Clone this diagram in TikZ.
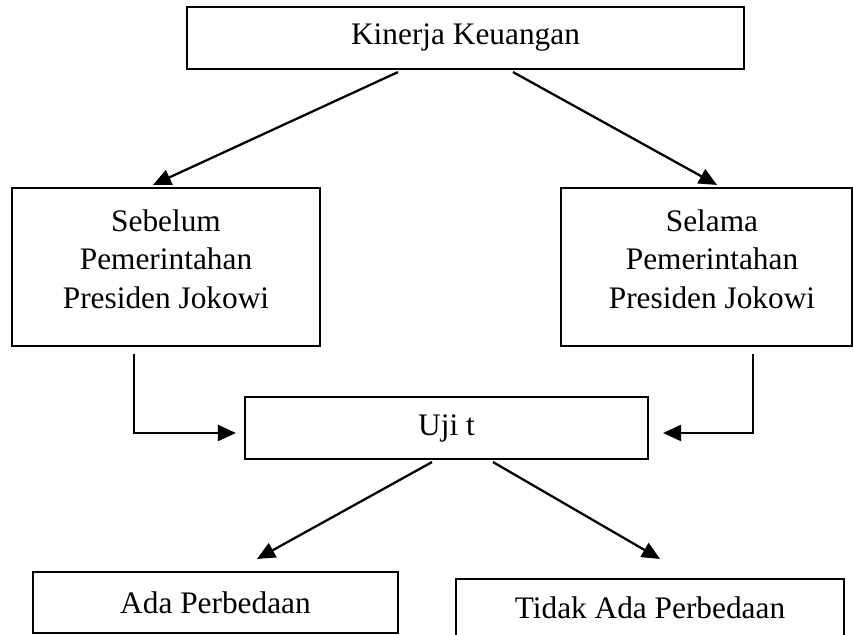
\documentclass[tikz,border=0pt]{standalone}
\usepackage{fontspec}
\setmainfont{Liberation Serif}
\usetikzlibrary{arrows.meta,calc}
\begin{document}
\begin{tikzpicture}[x=0.75pt,y=-0.75pt,
  box/.style={draw, line width=1.6pt, inner sep=0pt, font=\fontsize{23.5}{29}\selectfont},
  lbl/.style={inner sep=0pt, align=center, font=\fontsize{23.5}{29}\selectfont},
  arr/.style={line width=1.7pt, -{Triangle[length=13.5pt,width=12pt]}}]
\clip (0,0) rectangle (853,635);
\node[box, minimum width=417.75pt, minimum height=46.5pt] (kk) at (465.5,38) {Kinerja Keuangan};
\node[box, minimum width=231pt, minimum height=118.5pt] (sb) at (166,267) {};
\node[lbl] (sbt) at (166,259) {Sebelum\\Pemerintahan\\Presiden Jokowi};
\node[box, minimum width=218.25pt, minimum height=118.5pt] (sl) at (706.5,267) {};
\node[lbl] (slt) at (712,259) {Selama\\Pemerintahan\\Presiden Jokowi};
\node[box, minimum width=302.25pt, minimum height=46.5pt] (uj) at (446.5,428) {Uji t};
\node[box, minimum width=273.75pt, minimum height=45.75pt] (ada) at (215.5,602.5) {Ada Perbedaan};
\node[box, minimum width=291pt, minimum height=46.5pt] (tdk) at (650,610) {};
\node[lbl] (tdkt) at (650,608) {Tidak Ada Perbedaan};
\draw[arr] ($(kk.south)+(-67.5,2)$) -- ($(sb.north)+(-13,-2)$);
\draw[arr] ($(kk.south)+(47.5,2)$) -- ($(sl.north)+(10.5,-2)$);
\draw[arr] ($(sb.south)+(-32,7)$) |- ($(uj.west)+(-8,5)$);
\draw[arr] ($(sl.south)+(46.5,7)$) |- ($(uj.east)+(14,5)$);
\draw[arr] ($(uj.south)+(-14.5,2)$) -- ($(ada.north)+(41.5,-12)$);
\draw[arr] ($(uj.south)+(46.5,2)$) -- ($(tdk.north)+(10,-19)$);
\end{tikzpicture}
\end{document}
